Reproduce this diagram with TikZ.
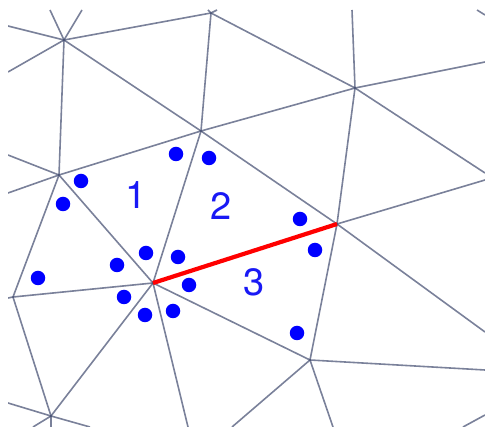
\documentclass[tikz,border=0pt]{standalone}
\usepackage{fontspec}
\setmainfont{TeX Gyre Heros}
\definecolor{edgecol}{RGB}{70,80,115}
\definecolor{dotblue}{RGB}{0,0,255}
\definecolor{labblue}{RGB}{25,25,245}
\definecolor{redge}{RGB}{255,0,0}
\tikzset{
  mesh/.style={draw=edgecol, line width=1.6pt, draw opacity=0.72},
  hot/.style={draw=redge, line width=4.2pt},
  pt/.style={circle, fill=dotblue, inner sep=0pt, minimum size=14.5pt},
  lab/.style={text=labblue, inner sep=0pt, font=\fontsize{38}{40}\selectfont}
}
\begin{document}
\begin{tikzpicture}[x=1pt,y=-1pt]
\useasboundingbox (0,0) rectangle (485,427);
% interior vertices
\coordinate (A) at (64,40);
\coordinate (B) at (211,13);
\coordinate (C) at (59,175);
\coordinate (D) at (201,131);
\coordinate (E) at (355,88);
\coordinate (F) at (337,224);
\coordinate (H) at (153,283);
\coordinate (I) at (13,297);
\coordinate (J) at (51,416);
\coordinate (K) at (310,360);
% border points
\coordinate (a1) at (50,10);
\coordinate (a2) at (82,10);
\coordinate (a3) at (8,26);
\coordinate (a4) at (8,72);
\coordinate (b1) at (208,10);
\coordinate (b2) at (217,10);
\coordinate (c1) at (8,155);
\coordinate (c2) at (8,193);
\coordinate (e1) at (352,10);
\coordinate (e2) at (485,62);
\coordinate (e3) at (485,173);
\coordinate (f1) at (485,180);
\coordinate (f2) at (485,332);
\coordinate (h1) at (188,427);
\coordinate (i1) at (8,298);
\coordinate (j1) at (8,403);
\coordinate (j2) at (90,427);
\coordinate (j3) at (51,427);
\coordinate (j4) at (33,427);
\coordinate (k1) at (485,370);
\coordinate (k2) at (232,427);
\coordinate (k3) at (333,427);
\coordinate (r1) at (463,427);
\coordinate (r2) at (485,415);
\coordinate (t1) at (477,10);
\coordinate (t2) at (485,15);

\begin{scope}
\clip (8,10) rectangle (485,427);
\draw[mesh] (A) -- (B);
\draw[mesh] (A) -- (C);
\draw[mesh] (A) -- (D);
\draw[mesh] (A) -- (a1);
\draw[mesh] (A) -- (a2);
\draw[mesh] (A) -- (a3);
\draw[mesh] (A) -- (a4);
\draw[mesh] (B) -- (D);
\draw[mesh] (B) -- (E);
\draw[mesh] (B) -- (b1);
\draw[mesh] (B) -- (b2);
\draw[mesh] (C) -- (D);
\draw[mesh] (C) -- (H);
\draw[mesh] (C) -- (I);
\draw[mesh] (C) -- (c1);
\draw[mesh] (C) -- (c2);
\draw[mesh] (D) -- (E);
\draw[mesh] (D) -- (F);
\draw[mesh] (D) -- (H);
\draw[mesh] (E) -- (e1);
\draw[mesh] (E) -- (e2);
\draw[mesh] (E) -- (e3);
\draw[mesh] (E) -- (F);
\draw[mesh] (F) -- (K);
\draw[mesh] (F) -- (f1);
\draw[mesh] (F) -- (f2);
\draw[mesh] (H) -- (I);
\draw[mesh] (H) -- (J);
\draw[mesh] (H) -- (K);
\draw[mesh] (H) -- (h1);
\draw[mesh] (I) -- (J);
\draw[mesh] (I) -- (i1);
\draw[mesh] (J) -- (j1);
\draw[mesh] (J) -- (j2);
\draw[mesh] (J) -- (j3);
\draw[mesh] (J) -- (j4);
\draw[mesh] (K) -- (k1);
\draw[mesh] (K) -- (k2);
\draw[mesh] (K) -- (k3);
\draw[mesh] (r1) -- (r2);
\draw[mesh] (t1) -- (t2);
\end{scope}

\draw[hot] (H) -- (F);

% sample points
\node[pt] (d1) at (176,154) {};
\node[pt] (d2) at (209,158) {};
\node[pt] (d3) at (81,181) {};
\node[pt] (d4) at (63,204) {};
\node[pt] (d5) at (146,253) {};
\node[pt] (d6) at (117,265) {};
\node[pt] (d7) at (178,257) {};
\node[pt] (d8) at (38,278) {};
\node[pt] (d9) at (189,285) {};
\node[pt] (d10) at (124,297) {};
\node[pt] (d11) at (145,315) {};
\node[pt] (d12) at (173,311) {};
\node[pt] (d13) at (300,219) {};
\node[pt] (d14) at (315,250) {};
\node[pt] (d15) at (297,333) {};

% labels
\node[lab] (l1) at (136,195) {1};
\node[lab] (l2) at (221.5,206) {2};
\node[lab] (l3) at (254,282) {3};
\end{tikzpicture}
\end{document}
